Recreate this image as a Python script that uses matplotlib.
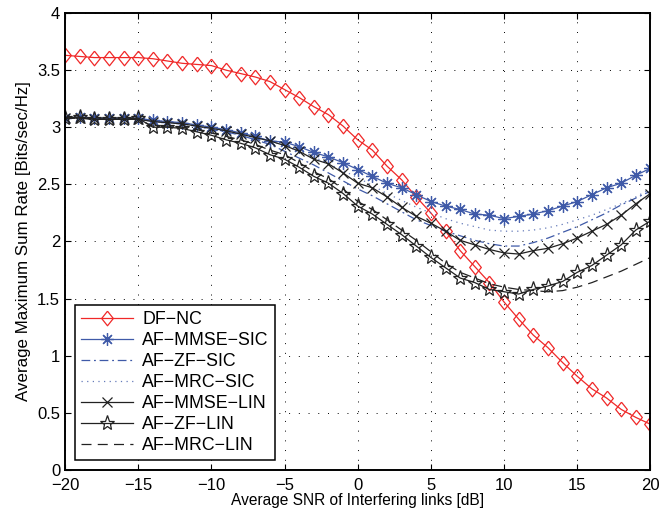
import numpy as np
import matplotlib
matplotlib.use('Agg')
import matplotlib.pyplot as plt

plt.rcParams['font.family'] = ['Liberation Sans', 'DejaVu Sans']

snr = np.arange(-20, 21)  # dB

df_nc = [3.63, 3.62, 3.61, 3.61, 3.61, 3.61, 3.60, 3.58, 3.56, 3.55, 3.54, 3.50, 3.47, 3.44, 3.40,
         3.33, 3.26, 3.18, 3.11, 3.01, 2.89, 2.80, 2.66, 2.54, 2.39, 2.25, 2.09, 1.92, 1.78, 1.64,
         1.47, 1.32, 1.18, 1.07, 0.94, 0.82, 0.71, 0.63, 0.53, 0.46, 0.40]
mmse_sic = [3.08, 3.09, 3.08, 3.08, 3.08, 3.08, 3.06, 3.05, 3.04, 3.02, 3.00, 2.98, 2.95, 2.92, 2.88,
            2.87, 2.83, 2.78, 2.74, 2.69, 2.63, 2.57, 2.51, 2.47, 2.41, 2.35, 2.31, 2.28, 2.24, 2.23,
            2.20, 2.22, 2.24, 2.27, 2.31, 2.35, 2.41, 2.47, 2.51, 2.58, 2.64]
zf_sic = [3.08, 3.08, 3.08, 3.07, 3.07, 3.07, 3.05, 3.04, 3.03, 3.01, 2.98, 2.96, 2.93, 2.89, 2.85,
          2.79, 2.73, 2.67, 2.60, 2.53, 2.46, 2.40, 2.33, 2.26, 2.19, 2.14, 2.09, 2.05, 2.01, 1.98,
          1.96, 1.96, 1.99, 2.03, 2.08, 2.13, 2.19, 2.25, 2.32, 2.38, 2.44]
mrc_sic = [3.08, 3.08, 3.08, 3.07, 3.07, 3.07, 3.06, 3.05, 3.04, 3.02, 3.00, 2.97, 2.94, 2.91, 2.88,
           2.84, 2.79, 2.74, 2.68, 2.62, 2.56, 2.49, 2.42, 2.36, 2.30, 2.25, 2.20, 2.16, 2.13, 2.10,
           2.09, 2.09, 2.10, 2.12, 2.15, 2.19, 2.23, 2.28, 2.33, 2.39, 2.46]
mmse_lin = [3.08, 3.08, 3.07, 3.07, 3.07, 3.07, 3.05, 3.04, 3.03, 3.01, 2.99, 2.97, 2.94, 2.91, 2.88,
            2.84, 2.79, 2.72, 2.68, 2.60, 2.51, 2.47, 2.39, 2.30, 2.22, 2.16, 2.09, 2.01, 1.97, 1.93,
            1.90, 1.89, 1.92, 1.94, 1.98, 2.03, 2.09, 2.15, 2.23, 2.33, 2.42]
zf_lin = [3.08, 3.09, 3.07, 3.07, 3.07, 3.08, 3.00, 3.00, 2.99, 2.96, 2.93, 2.89, 2.86, 2.82, 2.76,
          2.72, 2.65, 2.57, 2.51, 2.42, 2.31, 2.24, 2.15, 2.06, 1.96, 1.86, 1.77, 1.68, 1.64, 1.58,
          1.56, 1.54, 1.58, 1.61, 1.65, 1.73, 1.79, 1.88, 1.97, 2.10, 2.18]
mrc_lin = [3.08, 3.08, 3.07, 3.07, 3.07, 3.07, 3.01, 3.01, 3.00, 2.98, 2.95, 2.92, 2.89, 2.85, 2.80,
           2.76, 2.69, 2.61, 2.55, 2.46, 2.35, 2.28, 2.19, 2.10, 2.01, 1.91, 1.81, 1.73, 1.68, 1.63,
           1.60, 1.58, 1.57, 1.56, 1.57, 1.60, 1.64, 1.69, 1.74, 1.80, 1.86]

red = '#f02828'
blue = '#3f5aa8'
diamond = [(0, 1), (0.8, 0), (0, -1), (-0.8, 0), (0, 1)]  # slightly tall diamond

fig = plt.figure(figsize=(6.6, 5.21), dpi=100)
ax = fig.add_axes([0.0985, 0.098, 0.887, 0.877])

ax.plot(snr, df_nc, color=red, lw=0.9, marker=diamond, ms=10.5, mfc='none', mew=0.9, label='DF\u2212NC')
ax.plot(snr, mmse_sic, color=blue, lw=0.9, marker=(8, 2, 0), ms=9, mew=0.9, label='AF\u2212MMSE\u2212SIC')
ax.plot(snr, zf_sic, color=blue, lw=0.9, ls=(0, (7, 3, 1.5, 3)), label='AF\u2212ZF\u2212SIC')
ax.plot(snr, mrc_sic, color=blue, lw=0.9, ls=(0, (1, 3.5)), alpha=0.8, label='AF\u2212MRC\u2212SIC')
ax.plot(snr, mmse_lin, color='#222222', lw=0.9, marker='x', ms=6.5, mew=0.9, label='AF\u2212MMSE\u2212LIN')
ax.plot(snr, zf_lin, color='#222222', lw=0.9, marker='*', ms=11, mfc='none', mew=0.9, label='AF\u2212ZF\u2212LIN')
ax.plot(snr, mrc_lin, color='#222222', lw=0.9, ls=(0, (8, 5)), label='AF\u2212MRC\u2212LIN')

ax.set_xlim(-20, 20)
ax.set_ylim(0, 4)
ax.set_xticks(np.arange(-20, 21, 5))
ax.set_yticks(np.arange(0, 4.01, 0.5))
ax.set_xticklabels([str(v).replace('-', '\u2212') for v in range(-20, 21, 5)])
ax.set_yticklabels(['0', '0.5', '1', '1.5', '2', '2.5', '3', '3.5', '4'])
ax.tick_params(direction='in', length=4, labelsize=12, top=True, right=True)
ax.tick_params(axis='x', pad=6)
ax.grid(True, ls=(0, (1, 9)), color='black', lw=0.7)
for s in ax.spines.values():
    s.set_linewidth(1.4)

ax.set_xlabel('Average SNR of Interfering links [dB]', fontsize=11.2, labelpad=0)
ax.set_ylabel('Average Maximum Sum Rate [Bits/sec/Hz]', fontsize=12.2, labelpad=4)

leg = ax.legend(loc='lower left', fontsize=12.8, fancybox=False, framealpha=1, edgecolor='black',
                handlelength=2.9, handletextpad=0.55, borderaxespad=0.55, labelspacing=0.22,
                borderpad=0.35)
leg.get_frame().set_linewidth(1.1)

fig.savefig('out.png', dpi=100)
